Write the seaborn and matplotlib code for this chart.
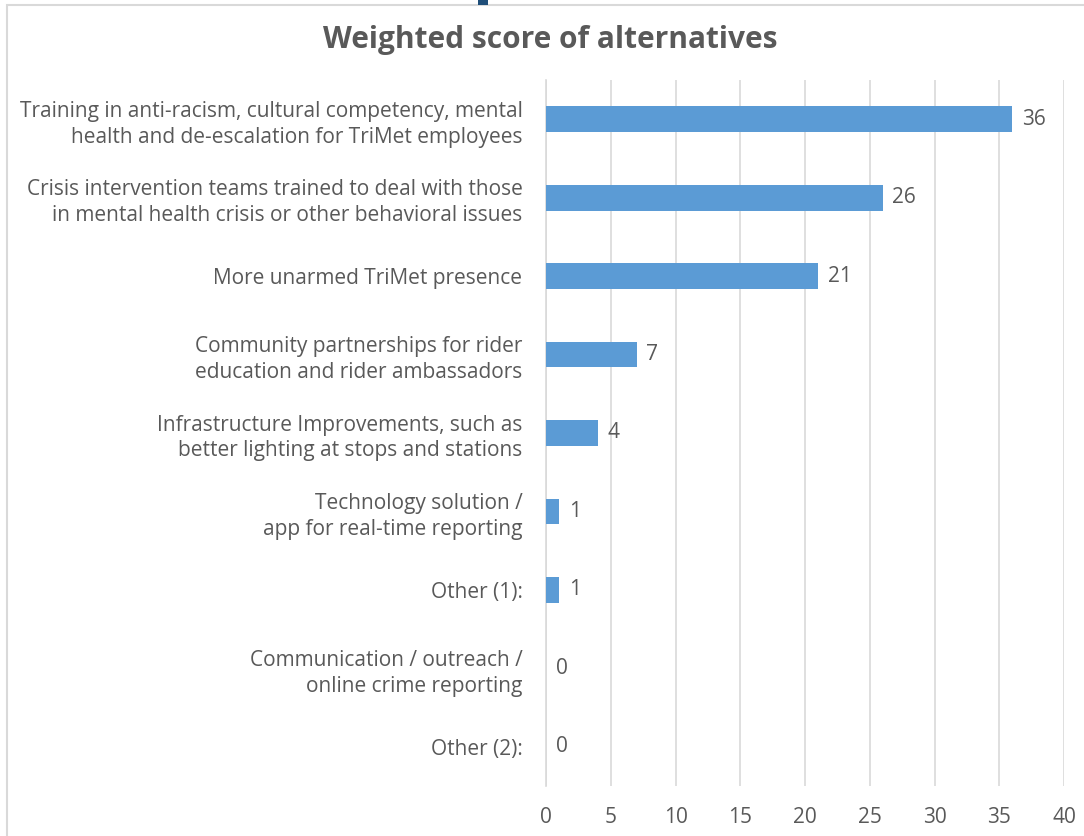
import matplotlib
matplotlib.use("Agg")
import matplotlib.pyplot as plt
import seaborn as sns
import pandas as pd
from matplotlib.patches import Rectangle

# --- DATA ---
categories = [
    "Training in anti-racism, cultural competency, mental\nhealth and de-escalation for TriMet employees",
    "Crisis intervention teams trained to deal with those\nin mental health crisis or other behavioral issues",
    "More unarmed TriMet presence",
    "Community partnerships for rider\neducation and rider ambassadors",
    "Infrastructure Improvements, such as\nbetter lighting at stops and stations",
    "Technology solution /\napp for real-time reporting",
    "Other (1):",
    "Communication / outreach /\nonline crime reporting",
    "Other (2):",
]
scores = [36, 26, 21, 7, 4, 1, 1, 0, 0]
x_ticks = [0, 5, 10, 15, 20, 25, 30, 35, 40]

TEXT = "#595959"
GRID = "#D9D9D9"
BAR = "#5B9BD5"

sns.set_style("white")
plt.rcParams["font.family"] = ["Open Sans", "DejaVu Sans"]

df = pd.DataFrame({"category": categories, "score": scores})

fig = plt.figure(figsize=(10.84, 8.36), dpi=100)
ax = fig.add_axes([546 / 1084, 1 - 786 / 836, (1064 - 546) / 1084, (786 - 80) / 836])

sns.barplot(data=df, x="score", y="category", color=BAR, width=0.33,
            saturation=1, linewidth=0, ax=ax, zorder=3)

ax.set_xlim(0, 40)
ax.set_xticks(x_ticks)
ax.xaxis.grid(True, color=GRID, linewidth=1.2, zorder=0)
ax.set_axisbelow(True)
for side in ["top", "right", "bottom"]:
    ax.spines[side].set_visible(False)
ax.spines["left"].set_color(GRID)
ax.spines["left"].set_linewidth(1.2)
ax.tick_params(axis="both", length=0, colors=TEXT, labelsize=15)
ax.tick_params(axis="x", pad=15)
ax.tick_params(axis="y", pad=17)
for lbl in ax.get_yticklabels():
    lbl.set_linespacing(1.3)
ax.set_xlabel("")
ax.set_ylabel("")

# value labels
for cont in ax.containers:
    labels = ax.bar_label(cont, padding=7, color=TEXT, fontsize=15)
    for t in labels:
        t.set_y(t.get_position()[1] + 0.02)

fig.suptitle("Weighted score of alternatives", x=550 / 1084, y=1 - 40 / 836,
             va="center", fontsize=21.5, fontweight="bold", color=TEXT)

# chart frame and small marker at top
fig.patches.append(Rectangle((7 / 1084, -0.05), 1.1, 1 - 5.5 / 836 + 0.05,
                             transform=fig.transFigure, fill=False,
                             edgecolor=GRID, linewidth=1.5))
fig.patches.append(Rectangle((478 / 1084, 1 - 5 / 836), 10 / 1084, 5 / 836,
                             transform=fig.transFigure, facecolor="#1F4E79",
                             edgecolor="none"))

fig.savefig("out.png", dpi=100)
